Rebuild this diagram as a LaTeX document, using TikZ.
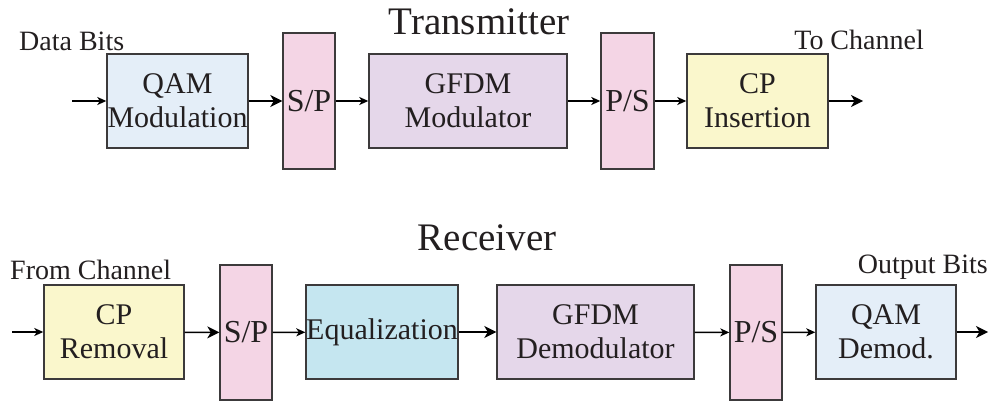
\documentclass[tikz,border=0pt]{standalone}
\usepackage{fontspec}
\setmainfont{Liberation Serif}
\usetikzlibrary{arrows.meta}
\definecolor{inkc}{HTML}{231F20}
\definecolor{edgec}{HTML}{3C3A3B}
\definecolor{qamc}{HTML}{E4EEF8}
\definecolor{convc}{HTML}{F4D5E5}
\definecolor{gfdmc}{HTML}{E5D7EA}
\definecolor{cpc}{HTML}{FAF7CC}
\definecolor{eqc}{HTML}{C5E6F0}
\tikzset{
  blockbox/.style={draw=edgec, line width=1.4pt, inner sep=0pt, align=center,
    minimum height=94pt, text=inkc, font=\rmfamily\fontsize{30}{34}\selectfont},
  convbox/.style={draw=edgec, line width=1.4pt, inner sep=0pt, fill=convc,
    minimum width=52pt, minimum height=136pt, text=inkc,
    font=\rmfamily\fontsize{32}{34}\selectfont},
  lbl/.style={text=inkc, inner sep=0pt, font=\rmfamily\fontsize{28}{30}\selectfont},
  ttl/.style={text=inkc, inner sep=0pt, font=\rmfamily\fontsize{39}{40}\selectfont},
  smallarr/.style={line width=1.5pt, draw=black, -{Stealth[length=9pt,width=8pt,inset=2.5pt]}},
  bigarr/.style={line width=1.5pt, draw=black, -{Stealth[length=12pt,width=12pt,inset=3.5pt]}}
}
\begin{document}
\begin{tikzpicture}[x=1pt,y=-1pt]
\useasboundingbox (0,0) rectangle (993,401);

% transmitter chain
\node[ttl] (ttitle) at (479,22) {Transmitter};
\node[blockbox, fill=qamc, minimum width=141pt] (qam) at (177.5,101) {QAM\\Modulation};
\node[convbox] (sp1) at (309,101) {S/P};
\node[blockbox, fill=gfdmc, minimum width=198pt] (gfdm) at (468,101) {GFDM\\Modulator};
\node[convbox, minimum width=53pt] (ps1) at (627.5,101) {P/S};
\node[blockbox, fill=cpc, minimum width=141pt] (cpi) at (757.5,101) {CP\\Insertion};
\coordinate (tin) at (72,101);
\coordinate (tout) at (863,101);
\node[lbl, anchor=west] (databits) at (19,41) {Data Bits};
\node[lbl, anchor=east] (tochan) at (924,40) {To Channel};

\draw[smallarr] (tin) -- (qam);
\draw[bigarr] (qam) -- (sp1);
\draw[smallarr] (sp1) -- (gfdm);
\draw[smallarr] (gfdm) -- (ps1);
\draw[smallarr] (ps1) -- (cpi);
\draw[bigarr] (cpi) -- (tout);

% receiver chain
\node[ttl] (rtitle) at (487,238) {Receiver};
\node[blockbox, fill=cpc, minimum width=140pt] (cpr) at (114,332) {CP\\Removal};
\node[convbox, minimum height=135pt] (sp2) at (246,332.5) {S/P};
\node[blockbox, fill=eqc, minimum width=152pt] (eq) at (382,332) {Equalization};
\node[blockbox, fill=gfdmc, minimum width=197pt] (gdem) at (595.5,332) {GFDM\\Demodulator};
\node[convbox, minimum height=135pt] (ps2) at (756,332.5) {P/S};
\node[blockbox, fill=qamc, minimum width=140pt] (qdem) at (886,332) {QAM\\Demod.};
\coordinate (rin) at (12,332);
\coordinate (rout) at (988,332);
\node[lbl, anchor=west] (fromchan) at (10,270) {From Channel};
\node[lbl, anchor=east] (outbits) at (988,267) {Output Bits};

\draw[smallarr] (rin) -- (cpr);
\draw[bigarr] (cpr) -- (sp2);
\draw[smallarr] (sp2) -- (eq);
\draw[bigarr] (eq) -- (gdem);
\draw[smallarr] (gdem) -- (ps2);
\draw[smallarr] (ps2) -- (qdem);
\draw[bigarr] (qdem) -- (rout);
\end{tikzpicture}
\end{document}
